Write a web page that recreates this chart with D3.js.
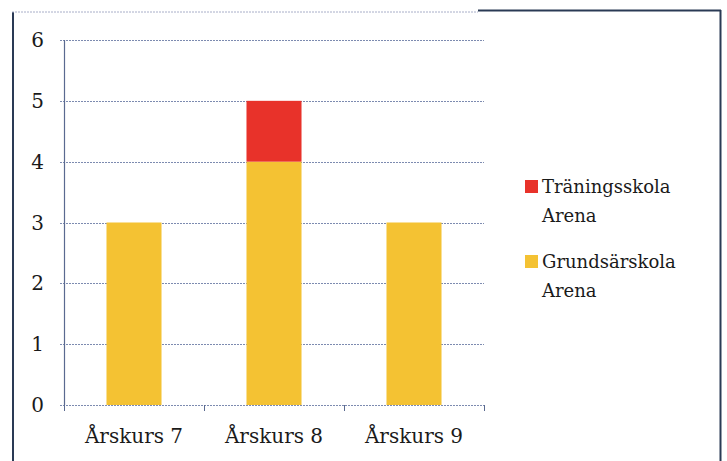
<!DOCTYPE html>
<html><head><meta charset="utf-8">
<script src="https://cdn.jsdelivr.net/npm/d3@7"></script>
<style>body{margin:0;background:#fff}svg{display:block}text{font-family:"DejaVu Serif",serif}</style>
</head><body><svg id="c" width="727" height="461"></svg>
<script>
const categories = ["Årskurs 7", "Årskurs 8", "Årskurs 9"];
const seriesNames = ["Grundsärskola Arena", "Träningsskola Arena"];
const grundsarskola = [3, 4, 3];
const traningsskola = [0, 1, 0];
const yTicks = [0, 1, 2, 3, 4, 5, 6];
const colors = {"Grundsärskola Arena": "#f4c233", "Träningsskola Arena": "#e8322a"};

const svg = d3.select("#c");

// frame
svg.append("line").attr("x1",13).attr("x2",13).attr("y1",12).attr("y2",461).attr("stroke","#2a3a55").attr("stroke-width",2);
svg.append("line").attr("x1",12).attr("x2",478).attr("y1",12).attr("y2",12).attr("stroke","#a8aec8").attr("stroke-width",1).attr("stroke-dasharray","2,1");
svg.append("line").attr("x1",478).attr("x2",721).attr("y1",10.5).attr("y2",10.5).attr("stroke","#2a3a55").attr("stroke-width",2);
svg.append("line").attr("x1",720.5).attr("x2",720.5).attr("y1",10).attr("y2",461).attr("stroke","#2a3a55").attr("stroke-width",2);

const x = d3.scaleBand().domain(categories).range([64, 484]).paddingInner(0.607).paddingOuter(0.3035);
const y = d3.scaleLinear().domain([0, 6]).range([405, 40]);

// gridlines
svg.append("g").selectAll("line").data(yTicks).join("line")
  .attr("x1", 60).attr("x2", 484)
  .attr("y1", d => Math.round(y(d)) + 0.5).attr("y2", d => Math.round(y(d)) + 0.5)
  .attr("stroke", "#7d8bb0").attr("stroke-width", 1).attr("stroke-dasharray", "2,1");

// stacked bars
const rows = categories.map((c, i) => ({cat: c, "Grundsärskola Arena": grundsarskola[i], "Träningsskola Arena": traningsskola[i]}));
const stack = d3.stack().keys(seriesNames)(rows);
svg.append("g").selectAll("g").data(stack).join("g")
  .attr("fill", d => colors[d.key])
  .selectAll("rect").data(d => d.filter(p => p[1] - p[0] > 0)).join("rect")
  .attr("x", d => x(d.data.cat)).attr("width", x.bandwidth())
  .attr("y", d => y(d[1])).attr("height", d => y(d[0]) - y(d[1]));

// y axis line
svg.append("line").attr("x1", 64.5).attr("x2", 64.5).attr("y1", 40).attr("y2", 405)
  .attr("stroke", "#5a6a90").attr("stroke-width", 1.2);
// x axis category separators
const xb = [64, 204, 344, 484];
svg.append("g").selectAll("line").data(xb).join("line")
  .attr("x1", d => d + 0.5).attr("x2", d => d + 0.5).attr("y1", 405).attr("y2", 411)
  .attr("stroke", "#5a6a90").attr("stroke-width", 1);

// y labels
svg.append("g").selectAll("text").data(yTicks).join("text")
  .attr("x", 44).attr("y", d => y(d) + 7).attr("text-anchor", "end")
  .attr("font-size", 20).attr("fill", "#1a1a1a")
  .text(d => d);

// x labels
svg.append("g").selectAll("text").data(categories).join("text")
  .attr("x", d => x(d) + x.bandwidth() / 2).attr("y", 443).attr("text-anchor", "middle")
  .attr("font-size", 20).attr("fill", "#1a1a1a")
  .text(d => d);

// legend
const legendItems = [
  {key: "Träningsskola Arena", lines: ["Träningsskola", "Arena"], y: 180},
  {key: "Grundsärskola Arena", lines: ["Grundsärskola", "Arena"], y: 255}
];
const lg = svg.append("g").selectAll("g").data(legendItems).join("g");
lg.append("rect").attr("x", 525).attr("y", d => d.y).attr("width", 13).attr("height", 13)
  .attr("fill", d => colors[d.key]);
lg.each(function(d) {
  const t = d3.select(this).append("text").attr("font-size", 18).attr("fill", "#1a1a1a");
  d.lines.forEach((ln, i) => t.append("tspan").attr("x", 542).attr("y", d.y + 13 + i * 29).text(ln));
});
</script></body></html>
